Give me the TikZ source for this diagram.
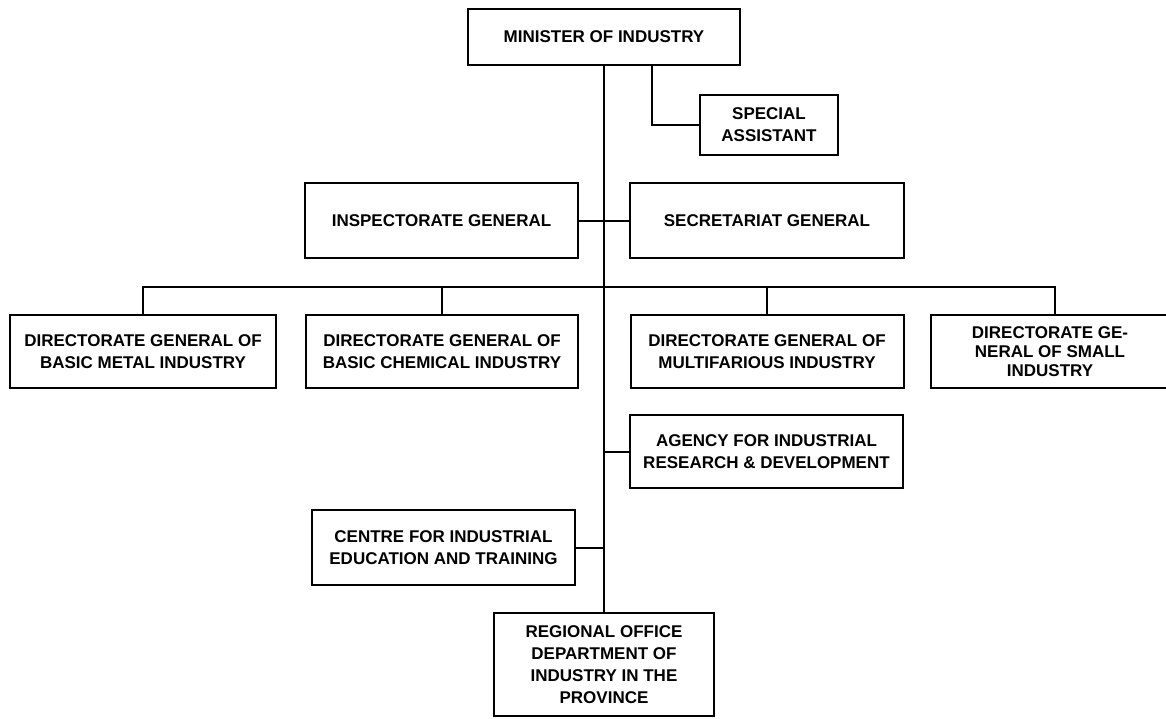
\documentclass[tikz,border=0pt]{standalone}
\usepackage{fontspec}
\setmainfont{Liberation Sans}
\begin{document}
\begin{tikzpicture}[x=1pt,y=-1pt,
  box/.style={draw, line width=2pt, align=center, inner sep=0pt, font=\fontsize{17}{22}\selectfont\bfseries},
  conn/.style={draw, line width=2pt}]
\useasboundingbox (0,0) rectangle (1166,718);
\node[box, minimum width=272pt, minimum height=56pt] (min) at (604,37) {MINISTER OF INDUSTRY};
\node[box, minimum width=138pt, minimum height=60pt] (sa) at (769,125) {SPECIAL\\ASSISTANT};
\node[box, minimum width=273pt, minimum height=75pt] (insp) at (441.5,220.5) {INSPECTORATE GENERAL};
\node[box, minimum width=274pt, minimum height=75pt] (secr) at (767,220.5) {SECRETARIAT GENERAL};
\node[box, minimum width=266pt, minimum height=73pt] (d1) at (143,351.5) {DIRECTORATE GENERAL OF\\BASIC METAL INDUSTRY};
\node[box, minimum width=272pt, minimum height=73pt] (d2) at (442,351.5) {DIRECTORATE GENERAL OF\\BASIC CHEMICAL INDUSTRY};
\node[box, minimum width=273pt, minimum height=73pt] (d3) at (767,351.5) {DIRECTORATE GENERAL OF\\MULTIFARIOUS INDUSTRY};
\node[box, minimum width=238pt, minimum height=73pt, font=\fontsize{17}{19}\selectfont\bfseries] (d4) at (1050,351.5) {DIRECTORATE GE-\\NERAL OF SMALL\\INDUSTRY};
\node[box, minimum width=273pt, minimum height=73pt] (ag) at (766.5,451.5) {AGENCY FOR INDUSTRIAL\\RESEARCH \& DEVELOPMENT};
\node[box, minimum width=263pt, minimum height=75pt] (ce) at (443.5,547.5) {CENTRE FOR INDUSTRIAL\\EDUCATION AND TRAINING};
\node[box, minimum width=220pt, minimum height=103pt] (reg) at (604,664.5) {REGIONAL OFFICE\\DEPARTMENT OF\\INDUSTRY IN THE\\PROVINCE};
\coordinate (bus) at (604,287);
\coordinate (busR) at (1055,287);
\coordinate (saTop) at (652,65);
\path[conn] (min.south) -- (reg.north);
\path[conn] (saTop) |- (sa.west);
\path[conn] (insp.east) -- (secr.west);
\path[conn] (d1.north) |- (busR) -- (busR |- d4.north);
\path[conn] (d2.north) -- (d2.north |- bus);
\path[conn] (d3.north) -- (d3.north |- bus);
\path[conn] (ag.west) -- (ag.west -| bus);
\path[conn] (ce.east) -- (ce.east -| bus);
\end{tikzpicture}
\end{document}
